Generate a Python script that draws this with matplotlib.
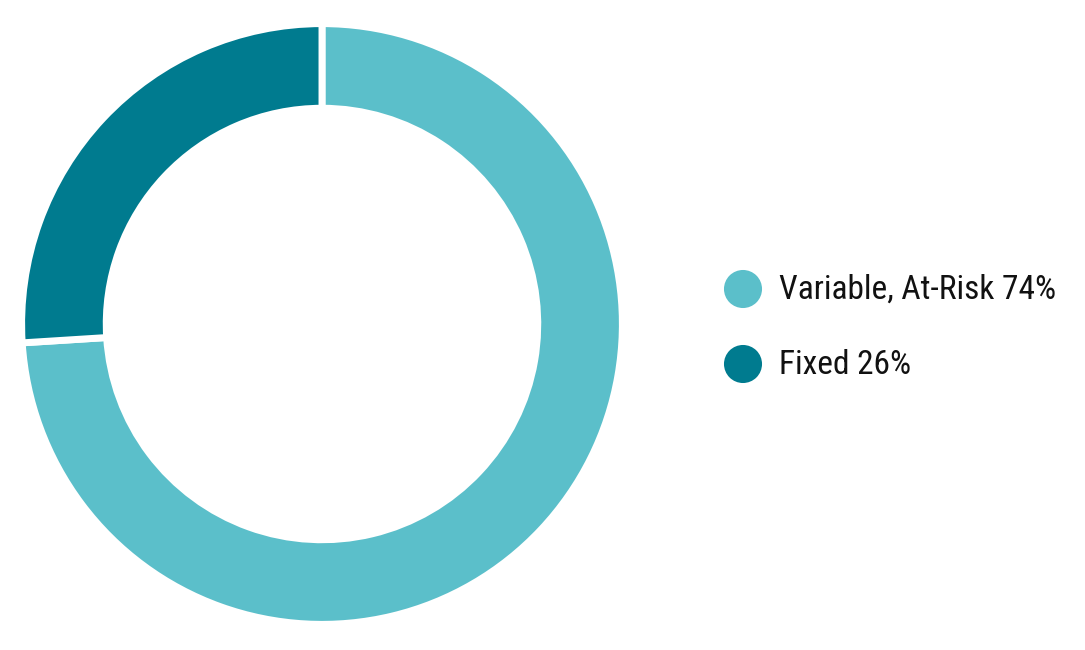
import matplotlib.pyplot as plt
from matplotlib import font_manager

# Data
labels = ["Variable, At-Risk", "Fixed"]
shares = [74, 26]
colors = ["#5BBFCA", "#007B8F"]

names = {f.name for f in font_manager.fontManager.ttflist}
condensed = [n for n in ("Roboto Condensed", "Open Sans Condensed",
                         "Liberation Sans Narrow", "DejaVu Sans Condensed")
             if n in names]
font = condensed[0] if condensed else "Roboto"
size = 24 if condensed else 22

fig = plt.figure(figsize=(10.85, 6.5), dpi=100)

# Donut
ax = fig.add_axes([24 / 1085, 28 / 650, 596 / 1085, 596 / 650])
ax.pie(shares, colors=colors, startangle=90, counterclock=False,
       radius=1.008, wedgeprops=dict(width=0.284, edgecolor="white", linewidth=5))
ax.set_xlim(-1, 1)
ax.set_ylim(-1, 1)
ax.set_aspect("equal")
ax.axis("off")

# Legend drawn by hand
lax = fig.add_axes([0, 0, 1, 1])
lax.set_xlim(0, 1085)
lax.set_ylim(650, 0)
lax.axis("off")
ys = [289, 364]
for y, lab, val, c in zip(ys, labels, shares, colors):
    lax.scatter([743], [y], s=38 ** 2 * 0.52, color=c, edgecolors="none")
    lax.text(779, y + 1, f"{lab} {val}%", fontsize=size, family=font,
             va="center", ha="left", color="#111111")

fig.savefig("out.png", dpi=100)
